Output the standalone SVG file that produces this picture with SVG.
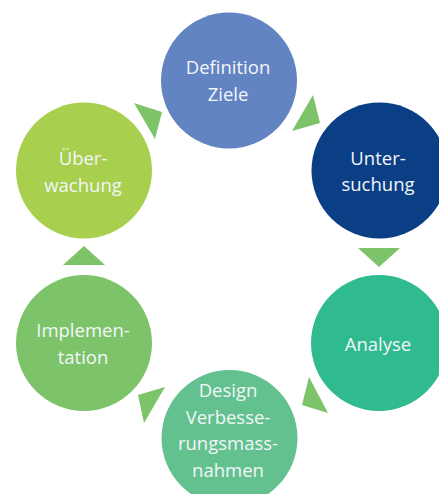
<svg xmlns="http://www.w3.org/2000/svg" width="439" height="494" viewBox="0 0 439 494">
<style>
  .lbl { font-family: "Open Sans", "Noto Sans", "DejaVu Sans", sans-serif; font-size: 18.5px; fill: #F3F6F8; text-anchor: middle; }
  .arr { fill: #7CC36A; }
</style>
<rect width="439" height="494" fill="#FFFFFF"/>
<g id="connectors">
  <polygon class="arr" points="313,95 292,131 320,123"/>
  <polygon class="arr" points="358,248 400,248 379,267"/>
  <polygon class="arr" points="309,377 302,405 328,413"/>
  <polygon class="arr" points="165,387 138,395 144,423"/>
  <polygon class="arr" points="84,246 63,265 105,265"/>
  <polygon class="arr" points="134,103 162,112 155,139"/>
</g>
<g id="definition">
  <circle cx="229" cy="80.5" r="68" fill="#6384C3"/>
  <text class="lbl" x="228" y="74">Definition</text>
  <text class="lbl" x="228" y="101">Ziele</text>
</g>
<g id="untersuchung">
  <circle cx="379.5" cy="170.5" r="68" fill="#0A3F86"/>
  <text class="lbl" x="378" y="165">Unter-</text>
  <text class="lbl" x="378" y="191">suchung</text>
</g>
<g id="analyse">
  <circle cx="379" cy="343" r="68" fill="#2FBB8F"/>
  <text class="lbl" x="378" y="351">Analyse</text>
</g>
<g id="design">
  <circle cx="229.5" cy="438" r="68" fill="#63C18F"/>
  <text class="lbl" x="228" y="396.5">Design</text>
  <text class="lbl" x="228" y="423.5">Verbesse-</text>
  <text class="lbl" x="228" y="449.5">rungsmass-</text>
  <text class="lbl" x="228" y="476.5">nahmen</text>
</g>
<g id="implementation">
  <circle cx="84" cy="343" r="68" fill="#7CC36A"/>
  <text class="lbl" x="83" y="337">Implemen-</text>
  <text class="lbl" x="83" y="364">tation</text>
</g>
<g id="ueberwachung">
  <circle cx="84" cy="170.5" r="68" fill="#A8CF4E"/>
  <text class="lbl" x="83" y="165">Über-</text>
  <text class="lbl" x="83" y="191.5">wachung</text>
</g>
</svg>
